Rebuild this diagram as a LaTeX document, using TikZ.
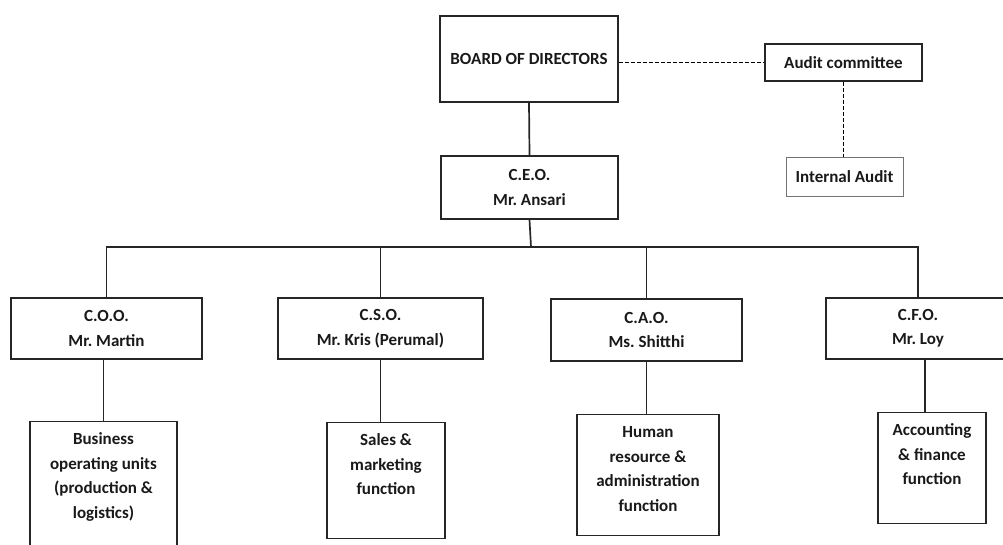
\documentclass[tikz,border=0pt]{standalone}
\usepackage{fontspec}
\setmainfont{Carlito}
\usepackage{tikz}
\usetikzlibrary{positioning}
\tikzset{
  every picture/.style={draw=black, text=black},
}
\frenchspacing
% text block of the function boxes, set from the top
\newcommand{\fnlines}[3]{\parbox[c][#1][t]{#2}{\centering\rule{0pt}{23pt}#3}}

\begin{document}
\begin{tikzpicture}[x=1pt, y=-1pt,
  every node/.style={font=\fontsize{17}{24.5}\selectfont\bfseries, text=black!90},
  post/.style={draw=black!85, line width=1.4pt, align=center, inner sep=0pt},
  fnbox/.style={draw=black!85, line width=1.4pt, inner sep=0pt, anchor=north},
  link/.style={draw=black!85, line width=1.7pt},
  audit/.style={draw=black, line width=1.8pt, dash pattern=on 4pt off 2pt}]
\path[use as bounding box, clip] (0,0) rectangle (1003,544);
% Board and audit
\node[post, minimum width=178pt, minimum height=86pt] (board) at (529,59) {BOARD OF DIRECTORS};
\node[post, minimum width=157pt, minimum height=37pt] (audit) at (843.5,62.5) {Audit committee};
\node[post, draw=black!55, line width=0.8pt, minimum width=117pt, minimum height=39pt] (intaudit) at (844.5,176.5) {Internal Audit};
% CEO
\node[post, minimum width=177pt, minimum height=63pt] (ceo) at (529.5,187.5) {C.E.O.\\ Mr. Ansari};
% Chiefs
\node[post, minimum width=191pt, minimum height=61pt] (coo) at (106.5,328.5) {C.O.O.\\ Mr. Martin};
\node[post, minimum width=205pt, minimum height=61pt] (cso) at (380.5,328.5) {C.S.O.\\ Mr. Kris (Perumal)};
\node[post, minimum width=191pt, minimum height=62pt] (cao) at (646.5,330) {C.A.O.\\ Ms. Shitthi};
\node[post, minimum width=184pt, minimum height=61pt] (cfo) at (918,328.5) {C.F.O.\\ Mr. Loy};
% Functions
\node[fnbox] (business) at (103.5,421) {\fnlines{140pt}{147pt}{Business\\ operating units\\ (production \&\\ logistics)}};
\node[fnbox] (sales) at (386,422) {\fnlines{116pt}{118pt}{Sales \&\\ marketing\\ function}};
\node[fnbox] (human) at (648,414) {\fnlines{121pt}{142pt}{Human\\ resource \&\\ administration\\ function}};
\node[fnbox] (accounting) at (932,412) {\fnlines{111pt}{108pt}{Accounting\\ \& finance\\ function}};
% Reporting lines
\coordinate (bus) at (531,247);
\coordinate (cfodrop) at (925,0);
\draw[link] (board.south) -- (ceo.north);
\draw[link] (ceo.south) -- (bus);
\draw[link] (coo.north) |- (bus) -| (cfo.north);
\draw[link] (cso.north) -- (cso.north |- bus);
\draw[link] (cao.north) -- (cao.north |- bus);
\draw[link] (coo.south -| business.north) -- (business.north);
\draw[link] (cso.south) -- (cso.south |- sales.north);
\draw[link] (cao.south) -- (cao.south |- human.north);
\draw[link] (cfo.south -| cfodrop) -- (cfodrop |- accounting.north);
% Audit lines
\draw[audit] (board.east |- audit.west) -- (audit.west);
\draw[audit] (audit.south) -- (audit.south |- intaudit.north);
\end{tikzpicture}
\end{document}
